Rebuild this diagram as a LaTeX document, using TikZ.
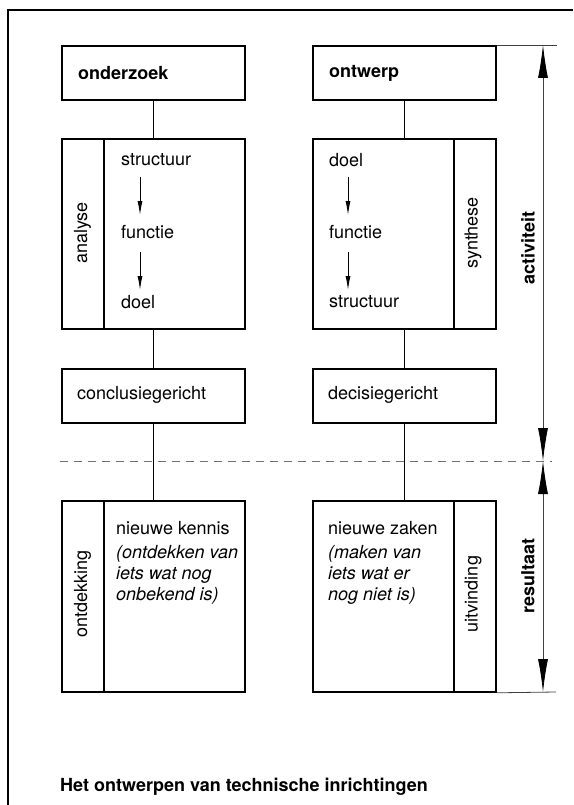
\documentclass[tikz,border=0pt]{standalone}
\usepackage{fontspec}
\setmainfont{TeX Gyre Heros}
\usetikzlibrary{arrows.meta}
\begin{document}
\begin{tikzpicture}[x=1pt,y=-1pt,
  box/.style={draw, line width=1.8pt, minimum width=183pt, inner sep=0pt, anchor=north west},
  lbl/.style={anchor=west, inner sep=0pt, font=\fontsize{18}{21}\selectfont},
  blbl/.style={anchor=west, inner sep=0pt, font=\fontsize{18}{21}\selectfont\bfseries},
  rot/.style={rotate=90, inner sep=0pt, font=\fontsize{18}{21}\selectfont},
  brot/.style={rotate=90, inner sep=0pt, font=\fontsize{18}{21}\selectfont\bfseries},
  itl/.style={anchor=north west, inner sep=0pt, align=left, font=\fontsize{18}{21}\selectfont\itshape},
  conn/.style={line width=1.3pt},
  divider/.style={line width=1.8pt},
  flow/.style={line width=0.9pt, -{Latex[length=14pt,width=5pt]}},
  dim/.style={line width=0.8pt, draw=black!75},
  bigtip/.style={line width=0.8pt, draw=black!75, {Latex[length=33pt,width=10pt,color=black]}-{Latex[length=33pt,width=10pt,color=black]}},
  dashline/.style={line width=0.9pt, draw=black!55, dash pattern=on 8pt off 6pt}
]
\useasboundingbox (0,0) rectangle (573,805);
% outer frame
\coordinate (fbl) at (8,805);
\coordinate (ftl) at (8,10);
\coordinate (ftr) at (573,10);
\draw[line width=1.5pt] (fbl) -- (ftl) -- (ftr);

% left column
\node[box, minimum height=54pt] (onderzoek) at (61,45) {};
\node[blbl] (tonderzoek) at (78,73) {onderzoek};
\node[box, minimum height=190pt] (analyse) at (61,138) {};
\draw[divider] ([xshift=43pt]analyse.north west) -- ([xshift=43pt]analyse.south west);
\node[rot] (tanalyse) at (82.5,233) {analyse};
\node[lbl] (ls) at (121,160) {structuur};
\node[lbl] (lf) at (121,232) {functie};
\node[lbl] (ld) at (121,302) {doel};
\coordinate (la1) at (140,177); \coordinate (lb1) at (140,215);
\coordinate (la2) at (140,252); \coordinate (lb2) at (140,290);
\draw[flow] (la1) -- (lb1);
\draw[flow] (la2) -- (lb2);
\node[box, minimum height=54pt] (conclusie) at (61,368) {};
\node[lbl] (tconclusie) at (77,395) {conclusiegericht};
\node[box, minimum height=191pt] (ontdekking) at (61,500) {};
\draw[divider] ([xshift=43pt]ontdekking.north west) -- ([xshift=43pt]ontdekking.south west);
\node[rot] (tontdekking) at (82.5,594) {ontdekking};
\node[lbl] (tkennis) at (116,528) {nieuwe kennis};
\node[itl] (tkennisit) at (116,545) {(ontdekken van\\iets wat nog\\onbekend is)};

\draw[conn] (onderzoek.south) -- (analyse.north);
\draw[conn] (analyse.south) -- (conclusie.north);
\draw[conn] (conclusie.south) -- (ontdekking.north);

% right column
\node[box, minimum height=54pt] (ontwerp) at (312,45) {};
\node[blbl] (tontwerp) at (329,73) {ontwerp};
\node[box, minimum height=190pt] (synthese) at (312,138) {};
\draw[divider] ([xshift=-43pt]synthese.north east) -- ([xshift=-43pt]synthese.south east);
\node[rot] (tsynthese) at (473,233) {synthese};
\node[lbl] (rd) at (329,160) {doel};
\node[lbl] (rf) at (329,232) {functie};
\node[lbl] (rs) at (329,302) {structuur};
\coordinate (ra1) at (348,177); \coordinate (rb1) at (348,215);
\coordinate (ra2) at (348,252); \coordinate (rb2) at (348,290);
\draw[flow] (ra1) -- (rb1);
\draw[flow] (ra2) -- (rb2);
\node[box, minimum height=54pt] (decisie) at (312,368) {};
\node[lbl] (tdecisie) at (328,395) {decisiegericht};
\node[box, minimum height=191pt] (uitvinding) at (312,500) {};
\draw[divider] ([xshift=-43pt]uitvinding.north east) -- ([xshift=-43pt]uitvinding.south east);
\node[rot] (tuitvinding) at (473,594) {uitvinding};
\node[lbl] (tzaken) at (328,528) {nieuwe zaken};
\node[itl] (tzakenit) at (328,545) {(maken van\\iets wat er\\nog niet is)};

\draw[conn] (ontwerp.south) -- (synthese.north);
\draw[conn] (synthese.south) -- (decisie.north);
\draw[conn] (decisie.south) -- (uitvinding.north);

% dashed separator
\coordinate (dl) at (60,461);
\coordinate (dr) at (552,461);
\draw[dashline] (dl) -- (dr);

% dimension lines
\coordinate (et) at (557,45);
\coordinate (eb) at (556,692);
\draw[dim] (ontwerp.north east) -- (et);
\draw[dim] (uitvinding.south east) -- (eb);
\coordinate (dt) at (543,45);
\coordinate (dm) at (543,461);
\coordinate (db) at (543,692);
\draw[bigtip] (dt) -- (dm);
\draw[bigtip] (dm) -- (db);
\node[brot] (tactiviteit) at (528,248) {activiteit};
\node[brot] (tresultaat) at (528,576) {resultaat};

% caption
\node[blbl] (caption) at (60,787) {Het ontwerpen van technische inrichtingen};
\end{tikzpicture}
\end{document}
